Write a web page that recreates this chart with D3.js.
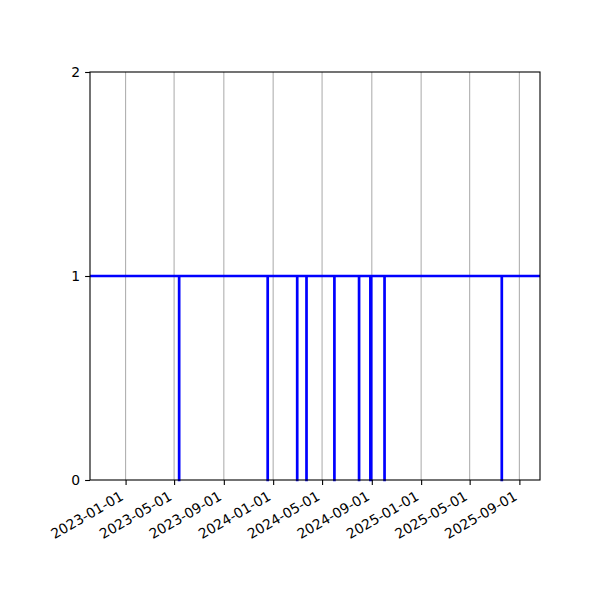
<!DOCTYPE html>
<html>
<head>
<meta charset="utf-8">
<script src="https://cdn.jsdelivr.net/npm/d3@7"></script>
<style>
    body { margin: 0; background: #fff; }
    text { font-family: "DejaVu Sans", sans-serif; font-size: 13.9px; fill: #000; }
</style>
</head>
<body>
<div id="canvas"></div>
<script>
"use strict"

// ---------------- DATA ----------------
// status series (step after): 1 = up, 0 = down
let stateDates = [
    "2022-10-05",
    "2023-05-13", "2023-05-14",
    "2023-12-18", "2023-12-19",
    "2024-02-29", "2024-03-01",
    "2024-03-23", "2024-03-24",
    "2024-05-31", "2024-06-01",
    "2024-07-31", "2024-08-01",
    "2024-08-28", "2024-08-31",
    "2024-10-02", "2024-10-03",
    "2025-07-19", "2025-07-20",
    "2025-10-22"
]
let stateValues = [
    1,
    0, 1,
    0, 1,
    0, 1,
    0, 1,
    0, 1,
    0, 1,
    0, 1,
    0, 1,
    0, 1,
    1
]

let xTickDates = ["2023-01-01", "2023-05-01", "2023-09-01", "2024-01-01", "2024-05-01",
    "2024-09-01", "2025-01-01", "2025-05-01", "2025-09-01"]
let yTickValues = [0, 1, 2]

let svgWidth = 600
let svgHeight = 600

let margin = { top: 72, right: 60, bottom: 120, left: 90 }

let width = svgWidth - margin.left - margin.right
let height = svgHeight - margin.top - margin.bottom

let parseDate = d3.utcParse("%Y-%m-%d")

let data = stateDates.map(function(d, i) {
    return { date: parseDate(d), value: stateValues[i] }
})

let svg = d3.select("#canvas")
    .append("svg")
    .attr("width", svgWidth)
    .attr("height", svgHeight)

let viz = svg.append("g")
    .attr("transform", `translate(${margin.left},${margin.top})`)

// ---------------- SCALES ----------------
let xScale = d3.scaleUtc()
    .domain(d3.extent(data, function(d) { return d.date }))
    .range([0, width])

let yScale = d3.scaleLinear()
    .domain([0, 2])
    .range([height, 0])

// ---------------- GRID ----------------
viz.append("g")
    .selectAll("line")
    .data(xTickDates.map(parseDate))
    .enter()
    .append("line")
    .attr("x1", function(d) { return xScale(d) })
    .attr("x2", function(d) { return xScale(d) })
    .attr("y1", 0)
    .attr("y2", height)
    .attr("stroke", "#b0b0b0")
    .attr("stroke-width", 1.1)

// ---------------- LINE ----------------
let line = d3.line()
    .x(function(d) { return xScale(d.date) })
    .y(function(d) { return yScale(d.value) })
    .curve(d3.curveStepAfter)

viz.append("path")
    .datum(data)
    .attr("d", line)
    .attr("fill", "none")
    .attr("stroke", "#0000ff")
    .attr("stroke-width", 2.3)

// ---------------- AXES ----------------
let xAxis = d3.axisBottom(xScale)
    .tickValues(xTickDates.map(parseDate))
    .tickFormat(d3.utcFormat("%Y-%m-%d"))
    .tickSizeInner(4.9)
    .tickSizeOuter(0)
    .tickPadding(4.9)

let yAxis = d3.axisLeft(yScale)
    .tickValues(yTickValues)
    .tickFormat(d3.format("d"))
    .tickSizeInner(4.9)
    .tickSizeOuter(0)
    .tickPadding(4.9)

let gx = viz.append("g")
    .attr("transform", `translate(0,${height})`)
    .call(xAxis)

gx.select(".domain").remove()
gx.selectAll(".tick line").attr("stroke", "#000").attr("stroke-width", 1.1)
gx.selectAll(".tick text")
    .attr("font-size", null)
    .attr("font-family", null)
    .attr("text-anchor", "end")
    .attr("dy", null)
    .attr("y", null)
    .attr("transform", "translate(-1.7,19) rotate(-30)")

let gy = viz.append("g")
    .call(yAxis)

gy.select(".domain").remove()
gy.selectAll(".tick line").attr("stroke", "#000").attr("stroke-width", 1.1)
gy.selectAll(".tick text")
    .attr("font-size", null)
    .attr("font-family", null)

// spines
viz.append("rect")
    .attr("x", 0)
    .attr("y", 0)
    .attr("width", width)
    .attr("height", height)
    .attr("fill", "none")
    .attr("stroke", "#000")
    .attr("stroke-width", 1.1)
</script>
</body>
</html>
